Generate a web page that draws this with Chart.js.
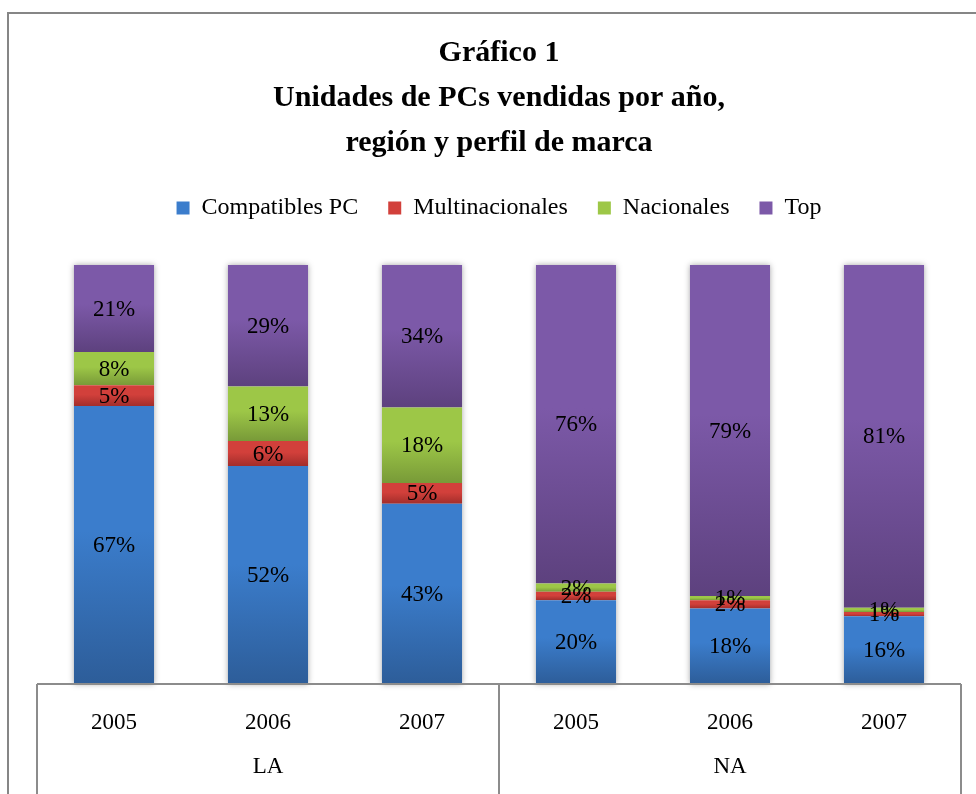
<!DOCTYPE html>
<html>
<head>
<meta charset="utf-8">
<script src="https://cdn.jsdelivr.net/npm/chart.js@4/dist/chart.umd.min.js"></script>
<style>
  html, body { margin: 0; padding: 0; background: #fff; }
  #wrap { width: 976px; height: 794px; }
</style>
</head>
<body>
<div id="wrap"><canvas id="myChart"></canvas></div>
<script>
const years = ["2005", "2006", "2007", "2005", "2006", "2007"];
const groups = ["LA", "NA"];
const seriesNames = ["Compatibles PC", "Multinacionales", "Nacionales", "Top"];
const compatibles = [67, 52, 43, 20, 18, 16];
const multinacionales = [5, 6, 5, 2, 2, 1];
const nacionales = [8, 13, 18, 2, 1, 1];
const top_ = [21, 29, 34, 76, 79, 81];

// top / bottom colour of each series gradient
const colors = [
  ["#3b7dcc", "#2d5d99"],
  ["#d2403b", "#a22d2a"],
  ["#9dc747", "#789a38"],
  ["#7c59a8", "#5d417e"],
];

const values = [compatibles, multinacionales, nacionales, top_];

// 100% stacked: each column scaled to its own total
const totals = years.map((_, i) => values.reduce((s, arr) => s + arr[i], 0));
const shares = values.map((arr) => arr.map((v, i) => (v / totals[i]) * 100));

const serif = "'Liberation Serif', 'Times New Roman', serif";

function segGradient(ctx) {
  const chart = ctx.chart;
  const d = ctx.datasetIndex;
  const c = colors[d];
  const y = chart.scales.y;
  if (!y || !chart.chartArea || ctx.dataIndex === undefined) return c[0];
  const i = ctx.dataIndex;
  let start = 0;
  for (let k = 0; k < d; k++) start += shares[k][i];
  const top = y.getPixelForValue(start + shares[d][i]);
  const bot = y.getPixelForValue(start);
  if (!isFinite(top) || !isFinite(bot) || top === bot) return c[0];
  const g = chart.ctx.createLinearGradient(0, top, 0, bot);
  g.addColorStop(0, c[0]);
  g.addColorStop(0.45, c[0]);
  g.addColorStop(1, c[1]);
  return g;
}

const datasets = seriesNames.map((name, d) => ({
  label: name,
  data: shares[d],
  backgroundColor: segGradient,
  borderWidth: 0,
  categoryPercentage: 1,
  barPercentage: 0.52,
}));

const frame = {
  id: "frame",
  beforeDraw(chart) {
    const c = chart.ctx;
    c.save();
    c.strokeStyle = "#868686";
    c.lineWidth = 2;
    c.beginPath();
    c.moveTo(8, 900);
    c.lineTo(8, 13);
    c.lineTo(1000, 13);
    c.stroke();
    c.restore();
  },
};

const barShadow = {
  id: "barShadow",
  beforeDatasetsDraw(chart) {
    const c = chart.ctx;
    const first = chart.getDatasetMeta(0).data;
    const last = chart.getDatasetMeta(seriesNames.length - 1).data;
    c.save();
    c.shadowColor = "rgba(0,0,0,0.35)";
    c.shadowBlur = 6;
    c.fillStyle = "#fff";
    first.forEach((el, i) => {
      const p = el.getProps(["x", "base", "width"], true);
      const t = last[i].getProps(["y"], true);
      c.fillRect(p.x - p.width / 2, t.y, p.width, p.base - t.y);
    });
    c.restore();
  },
};

const labels = {
  id: "labels",
  afterDatasetsDraw(chart) {
    const c = chart.ctx;
    c.save();
    c.font = "23px " + serif;
    c.fillStyle = "#000";
    c.textAlign = "center";
    c.textBaseline = "middle";
    values.forEach((arr, d) => {
      chart.getDatasetMeta(d).data.forEach((el, i) => {
        const p = el.getProps(["x", "y", "base"], true);
        c.fillText(arr[i] + "%", p.x, (p.y + p.base) / 2 + 1);
      });
    });
    c.restore();
  },
};

const groupAxis = {
  id: "groupAxis",
  afterDraw(chart) {
    const c = chart.ctx;
    const area = chart.chartArea;
    const x = chart.scales.x;
    const n = years.length / groups.length;
    c.save();
    c.strokeStyle = "#8c8c8c";
    c.lineWidth = 2;
    c.beginPath();
    c.moveTo(area.left, area.bottom);
    c.lineTo(area.right, area.bottom);
    const step = (area.right - area.left) / years.length;
    for (let g = 0; g <= groups.length; g++) {
      const gx = Math.round(area.left + g * n * step);
      c.moveTo(gx, area.bottom);
      c.lineTo(gx, 800);
    }
    c.stroke();
    c.font = "23px " + serif;
    c.fillStyle = "#000";
    c.textAlign = "center";
    c.textBaseline = "middle";
    groups.forEach((name, g) => {
      const a = x.getPixelForValue(g * n);
      const b = x.getPixelForValue(g * n + n - 1);
      c.fillText(name, (a + b) / 2, 767);
    });
    c.restore();
  },
};

const config = {
  type: "bar",
  data: {
    labels: years,
    datasets: datasets,
  },
  options: {
    responsive: true,
    maintainAspectRatio: false,
    animation: false,
    layout: {
      padding: { left: 37, right: 15, top: 0, bottom: 0 },
    },
    scales: {
      x: {
        stacked: true,
        grid: { display: false },
        border: { display: false },
        ticks: {
          color: "#000",
          font: { family: serif, size: 23 },
          padding: 17,
          maxRotation: 0,
        },
        afterFit(scale) {
          scale.height = 110;
        },
      },
      xTop: {
        type: "category",
        position: "top",
        labels: years,
        grid: { display: false },
        border: { display: false },
        ticks: { display: false },
        afterFit(scale) {
          scale.height = 35;
        },
      },
      y: {
        stacked: true,
        display: false,
        min: 0,
        max: 100,
      },
    },
    plugins: {
      tooltip: { enabled: false },
      title: {
        display: true,
        text: ["Gráfico 1", "Unidades de PCs vendidas por año,", "región y perfil de marca"],
        color: "#000",
        font: { family: serif, size: 30, weight: "bold", lineHeight: 1.5 },
        padding: { top: 31, bottom: 0 },
      },
      legend: {
        position: "top",
        labels: {
          color: "#000",
          font: { family: serif, size: 24 },
          boxWidth: 13,
          boxHeight: 13,
          padding: 30,
          generateLabels(chart) {
            return seriesNames.map((name, d) => ({
              text: name,
              fillStyle: colors[d][0],
              strokeStyle: colors[d][0],
              lineWidth: 0,
              datasetIndex: d,
            }));
          },
        },
      },
    },
  },
  plugins: [frame, barShadow, labels, groupAxis],
};

const myChart = new Chart(document.getElementById("myChart"), config);
</script>
</body>
</html>
